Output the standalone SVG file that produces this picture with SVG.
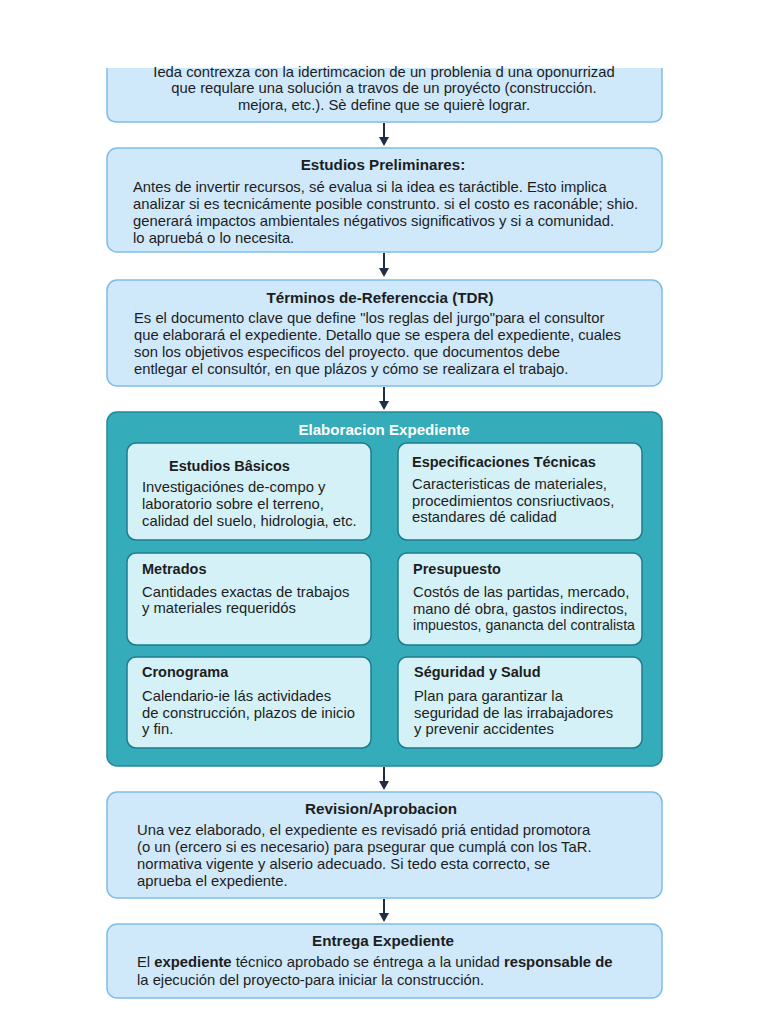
<svg xmlns="http://www.w3.org/2000/svg" width="768" height="1024" viewBox="0 0 768 1024">
<defs>
<style>
.box{fill:#cfe8fa;stroke:#7dbdeb;stroke-width:1.5}
.cont{fill:#34acba;stroke:#23899b;stroke-width:1.5}
.inner{fill:#d4f1f7;stroke:#1e7b8e;stroke-width:1.5}
text{font-family:"Liberation Sans",Arial,sans-serif;fill:#1d1d1d}
.t{font-size:15.2px;font-weight:bold;text-anchor:middle}
.b{font-size:14.8px}
.c{font-size:14.8px;text-anchor:middle}
.it{font-size:14.5px;font-weight:bold}
.w{fill:#ffffff;font-size:15.1px;font-weight:bold;text-anchor:middle}
.con{stroke:#1f2d45;stroke-width:2;fill:none}
.ah{fill:#1f2d45}
</style>
</defs>
<rect width="768" height="1024" fill="#ffffff"/>
<g id="connectors">
<line class="con" x1="384" y1="123" x2="384" y2="138"/><path class="ah" d="M379,137 L389,137 L384,146 Z"/>
<line class="con" x1="384" y1="253" x2="384" y2="269"/><path class="ah" d="M379,268 L389,268 L384,277 Z"/>
<line class="con" x1="384" y1="387" x2="384" y2="402"/><path class="ah" d="M379,401 L389,401 L384,410 Z"/>
<line class="con" x1="384" y1="767" x2="384" y2="782"/><path class="ah" d="M379,781 L389,781 L384,790 Z"/>
<line class="con" x1="384" y1="899" x2="384" y2="914"/><path class="ah" d="M379,913 L389,913 L384,922 Z"/>
</g>
<g id="n-idea">
<path class="box" d="M107,68 L107,112 Q107,122 117,122 L652,122 Q662,122 662,112 L662,68"/>
<text class="c" x="384" y="77">Ieda contrexza con la idertimcacion de un problenia d una oponurrizad</text>
<text class="c" x="384" y="93">que requlare una solución a travos de un proyécto (construcción.</text>
<text class="c" x="384" y="110">mejora, etc.). Sè define que se quierè lograr.</text>
</g>
<g id="n-estudios">
<rect class="box" x="107" y="148" width="555" height="104" rx="10"/>
<text class="t" x="383" y="170">Estudios Preliminares:</text>
<text class="b" x="133" y="192">Antes de invertir recursos, sé evalua si la idea es taráctible. Esto implica</text>
<text class="b" x="133" y="209">analizar si es tecnicámente posible construnto. si el costo es raconáble; shio.</text>
<text class="b" x="133" y="226">generará impactos ambientales négativos significativos y si a comunidad.</text>
<text class="b" x="133" y="243">lo apruebá o lo necesita.</text>
</g>
<g id="n-tdr">
<rect class="box" x="107" y="280" width="555" height="106" rx="10"/>
<text class="t" x="380" y="303">Términos de-Referenccia (TDR)</text>
<text class="b" x="134" y="323">Es el documento clave que define "los reglas del jurgo"para el consultor</text>
<text class="b" x="134" y="340">que elaborará el expediente. Detallo que se espera del expediente, cuales</text>
<text class="b" x="134" y="357">son los objetivos especificos del proyecto. que documentos debe</text>
<text class="b" x="134" y="374">entlegar el consultór, en que plázos y cómo se realizara el trabajo.</text>
</g>
<g id="n-elaboracion">
<rect class="cont" x="107" y="412" width="555" height="354" rx="10"/>
<text class="w" x="384" y="435">Elaboracion Expediente</text>
</g>
<g id="n-basicos">
<rect class="inner" x="127" y="443" width="244" height="97" rx="9"/>
<text class="it" x="169" y="471">Estudios Bâsicos</text>
<text class="b" x="142" y="492">Investigaciónes de-compo y</text>
<text class="b" x="142" y="509">laboratorio sobre el terreno,</text>
<text class="b" x="142" y="526">calidad del suelo, hidrologia, etc.</text>
</g>
<g id="n-especificaciones">
<rect class="inner" x="398" y="443" width="244" height="97" rx="9"/>
<text class="it" x="412" y="467">Especificaciones Técnicas</text>
<text class="b" x="412" y="489">Caracteristicas de materiales,</text>
<text class="b" x="412" y="506">procedimientos consriuctivaos,</text>
<text class="b" x="412" y="522">estandares dé calidad</text>
</g>
<g id="n-metrados">
<rect class="inner" x="127" y="553" width="244" height="92" rx="9"/>
<text class="it" x="142" y="574">Metrados</text>
<text class="b" x="142" y="597">Cantidades exactas de trabajos</text>
<text class="b" x="142" y="613">y materiales requeridós</text>
</g>
<g id="n-presupuesto">
<rect class="inner" x="398" y="553" width="244" height="92" rx="9"/>
<text class="it" x="413" y="574">Presupuesto</text>
<text class="b" x="413" y="597">Costós de las partidas, mercado,</text>
<text class="b" x="413" y="614">mano dé obra, gastos indirectos,</text>
<text class="b" x="413" y="630" textLength="222" lengthAdjust="spacingAndGlyphs">impuestos, ganancta del contralista</text>
</g>
<g id="n-cronograma">
<rect class="inner" x="127" y="657" width="244" height="91" rx="9"/>
<text class="it" x="142" y="677">Cronograma</text>
<text class="b" x="142" y="701">Calendario-ie lás actividades</text>
<text class="b" x="142" y="718">de construcción, plazos de inicio</text>
<text class="b" x="142" y="734">y fin.</text>
</g>
<g id="n-seguridad">
<rect class="inner" x="398" y="657" width="244" height="91" rx="9"/>
<text class="it" x="414" y="677">Séguridad y Salud</text>
<text class="b" x="414" y="701">Plan para garantizar la</text>
<text class="b" x="414" y="718">seguridad de las irrabajadores</text>
<text class="b" x="414" y="734">y prevenir accidentes</text>
</g>
<g id="n-revision">
<rect class="box" x="107" y="792" width="555" height="106" rx="10"/>
<text class="t" x="381" y="814">Revision/Aprobacion</text>
<text class="b" x="137" y="835">Una vez elaborado, el expediente es revisadó priá entidad promotora</text>
<text class="b" x="137" y="852">(o un (ercero si es necesario) para psegurar que cumplá con los TaR.</text>
<text class="b" x="137" y="869">normativa vigente y alserio adecuado. Si tedo esta correcto, se</text>
<text class="b" x="137" y="886">aprueba el expediente.</text>
</g>
<g id="n-entrega">
<rect class="box" x="107" y="924" width="555" height="74" rx="10"/>
<text class="t" x="383" y="946">Entrega Expediente</text>
<text class="b" x="137" y="967">El <tspan font-weight="bold">expediente</tspan> técnico aprobado se éntrega a la unidad <tspan font-weight="bold">responsable de</tspan></text>
<text class="b" x="137" y="985">la ejecución del proyecto-para iniciar la construcción.</text>
</g>
</svg>
